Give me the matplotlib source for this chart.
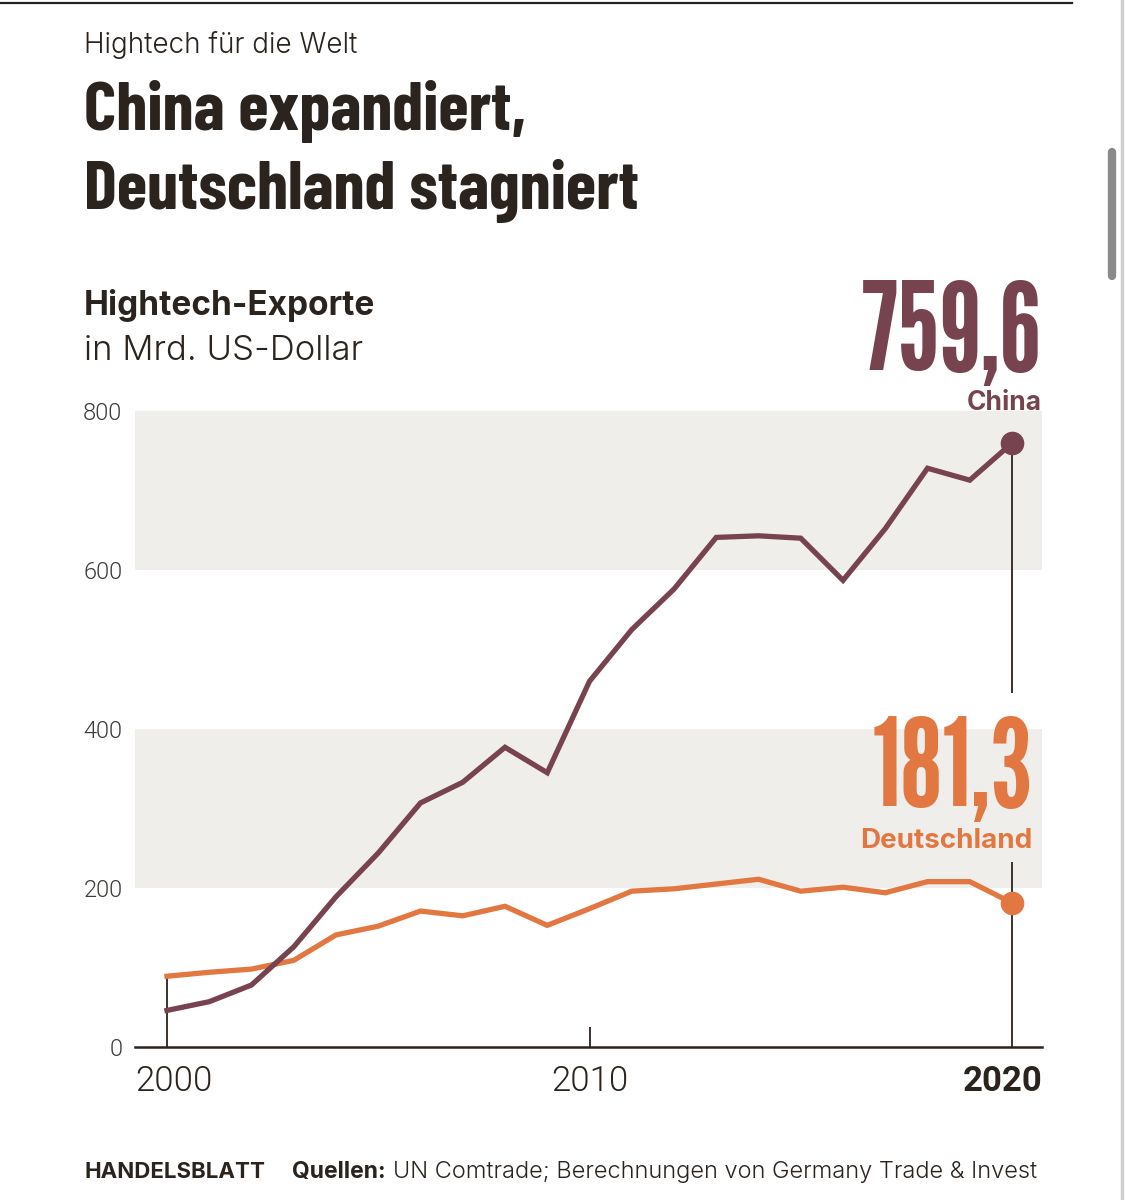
import matplotlib
matplotlib.use("Agg")
import matplotlib.pyplot as plt
from matplotlib.lines import Line2D
from matplotlib.transforms import blended_transform_factory

# Hightech-Exporte in Mrd. US-Dollar
years = list(range(2000, 2021))
china = [46, 57, 78, 126, 189, 244, 307, 333, 377, 345, 460,
         525, 576, 641, 643, 640, 587, 652, 728, 713, 759.6]
germany = [89, 94, 98, 109, 141, 152, 171, 165, 177, 153, 174,
           196, 199, 205, 211, 196, 201, 194, 208, 208, 181.3]
y_ticks = [0, 200, 400, 600, 800]
x_labels = [2000, 2010, 2020]

C_CHINA = "#77434f"
C_DE = "#e27741"
C_BAND = "#f0eeeb"
C_TEXT = "#2b231d"
C_GREY = "#3d3a38"

SANS = "Inter"
HEAD = "Barlow Condensed"
NUM = "League Gothic"

W, H = 1125, 1200
fig = plt.figure(figsize=(W / 100, H / 100), dpi=100)


def fx(x):
    return x / W


def fy(y):
    return 1 - y / H


# screenshot frame bits
fig.add_artist(Line2D([0, fx(1072)], [fy(3), fy(3)], lw=1.6, color="#222222"))
fig.add_artist(Line2D([fx(1122), fx(1122)], [0, 1], lw=2.5, color="#cfcfcf"))
fig.add_artist(Line2D([fx(1112), fx(1112)], [fy(152), fy(276)], lw=6,
                      color="#8a8a8a", solid_capstyle="round"))

# header
fig.text(fx(84), fy(53), "Hightech für die Welt", fontsize=20, family=SANS,
         weight=300, color=C_TEXT, va="baseline")
fig.text(fx(84), fy(130), "China expandiert,", fontsize=50,
         family=HEAD, weight=700, color=C_TEXT, va="baseline")
fig.text(fx(84), fy(209), "Deutschland stagniert", fontsize=50,
         family=HEAD, weight=700, color=C_TEXT, va="baseline")
fig.text(fx(84), fy(315), "Hightech-Exporte", fontsize=24, family=SANS,
         weight=700, color=C_TEXT, va="baseline")
fig.text(fx(84), fy(360), "in Mrd. US-Dollar", fontsize=25, family=SANS,
         weight=300, color=C_TEXT, va="baseline")

ax = fig.add_axes([fx(135), fy(1047), fx(1042 - 135), (1047 - 411) / H])
ax.set_xlim(2000 - 32 / 42.25, 2020 + 30 / 42.25)
ax.set_ylim(0, 800)
for s in ax.spines.values():
    s.set_visible(False)
ax.axhspan(600, 800, color=C_BAND, lw=0, zorder=0)
ax.axhspan(200, 400, color=C_BAND, lw=0, zorder=0)
ax.axhline(0, color=C_TEXT, lw=1.8, zorder=3, clip_on=False)

ax.set_yticks(y_ticks)
ax.set_yticklabels([str(v) for v in y_ticks], family="Roboto", weight=300,
                   fontsize=17, color=C_GREY)
ax.tick_params(axis="y", length=0, pad=9)
ax.set_xticks([])

# reference lines
ax.vlines(years[0], 0, germany[0], color=C_TEXT, lw=1.3, zorder=2)
ax.vlines(x_labels[1], 0, 25, color=C_TEXT, lw=1.3, zorder=2)
ax.vlines(years[-1], 0, germany[-1] + 52, color=C_TEXT, lw=1.3, zorder=2)
ax.vlines(years[-1], germany[-1] + 264, china[-1], color=C_TEXT, lw=1.3, zorder=2)

ax.plot(years, germany, color=C_DE, lw=3.8, solid_joinstyle="miter", zorder=4)
ax.plot(years, china, color=C_CHINA, lw=3.8, solid_joinstyle="miter", zorder=5)
ax.plot(years[-1], china[-1], "o", ms=16, color=C_CHINA, zorder=6)
ax.plot(years[-1], germany[-1], "o", ms=16, color=C_DE, zorder=6)

# x labels
tr = blended_transform_factory(ax.transData, fig.transFigure)
tr_ax = blended_transform_factory(ax.transAxes, fig.transFigure)
ax.text(0, fy(1091), str(x_labels[0]), transform=tr_ax, ha="left", va="baseline",
        fontsize=25, family="Roboto", weight=300, color=C_TEXT)
ax.text(x_labels[1], fy(1091), str(x_labels[1]), transform=tr, ha="center", va="baseline",
        fontsize=25, family="Roboto", weight=300, color=C_TEXT)
ax.text(1, fy(1091), str(x_labels[2]), transform=tr_ax, ha="right", va="baseline",
        fontsize=25, family="Roboto", weight=700, color=C_TEXT)


# end value labels
def fmt(v):
    return f"{v:.1f}".replace(".", ",")


ax.annotate(fmt(china[-1]), (years[-1], china[-1]), xytext=(21.6, 53), textcoords="offset points",
            ha="right", va="baseline", fontsize=88, family=NUM, color=C_CHINA)
ax.annotate("China", (years[-1], china[-1]), xytext=(21.6, 23.8), textcoords="offset points",
            ha="right", va="baseline", fontsize=19, family=SANS, weight=700, color=C_CHINA)
ax.annotate(fmt(germany[-1]), (years[-1], germany[-1]), xytext=(15, 70), textcoords="offset points",
            ha="right", va="baseline", fontsize=88, family=NUM, color=C_DE)
ax.annotate("Deutschland", (years[-1], germany[-1]), xytext=(15, 39.6), textcoords="offset points",
            ha="right", va="baseline", fontsize=20, family=SANS, weight=700, color=C_DE)

# footer
fig.text(fx(84), fy(1178), "HANDELSBLATT", fontsize=16, family=SANS, weight=700,
         color=C_TEXT, va="baseline")
q = fig.text(fx(292), fy(1178), "Quellen:", fontsize=16.5, family=SANS, weight=700,
             color=C_TEXT, va="baseline")
fig.canvas.draw()
bb = q.get_window_extent()
fig.text(bb.x1 / W + fx(7), fy(1178), "UN Comtrade; Berechnungen von Germany Trade & Invest",
         fontsize=17, family=SANS, weight=300, color=C_TEXT, va="baseline")

fig.savefig("out.png", dpi=100, facecolor="white")
